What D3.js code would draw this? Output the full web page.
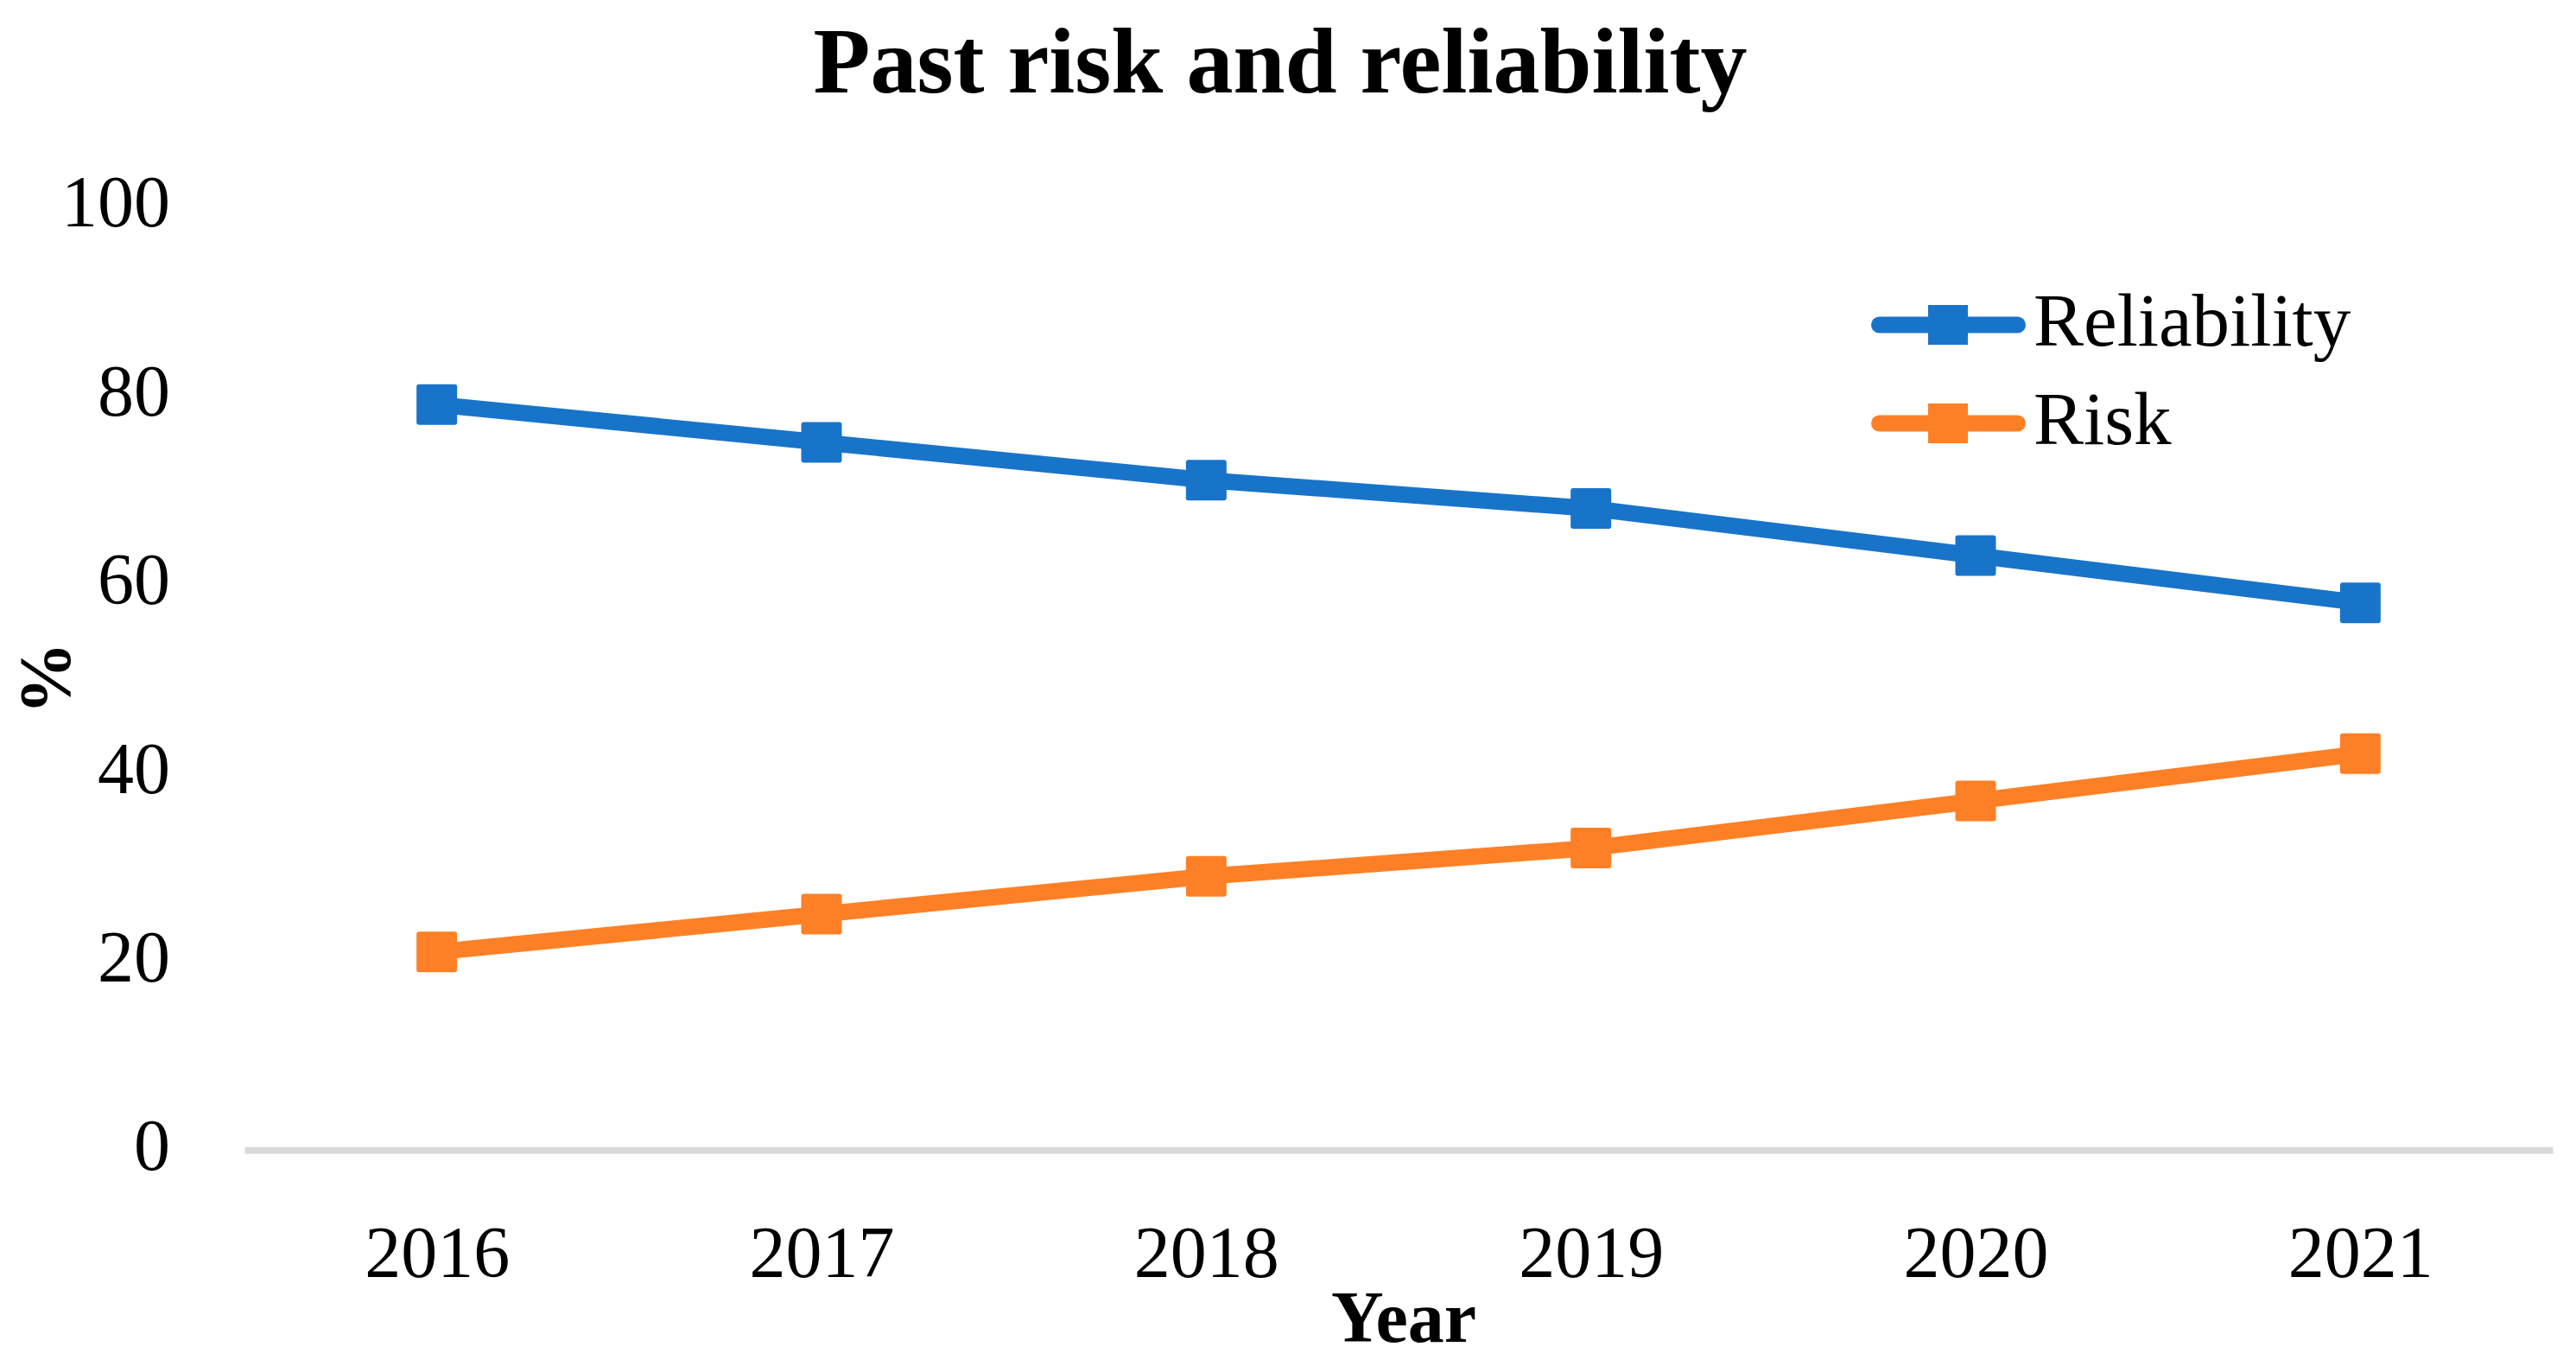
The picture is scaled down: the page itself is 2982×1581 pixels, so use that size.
<!DOCTYPE html>
<html>
<head>
<meta charset="utf-8">
<script src="https://cdn.jsdelivr.net/npm/d3@7"></script>
<style>
  body { margin: 0; background: #fff; }
  text { font-family: 'Liberation Serif', 'Times New Roman', serif; fill: #000; }
</style>
</head>
<body>
<div id="chart"></div>
<script>
const years = ['2016', '2017', '2018', '2019', '2020', '2021'];
const reliability = [79, 75, 71, 68, 63, 58];
const risk = [21, 25, 29, 32, 37, 42];
const yTicks = [0, 20, 40, 60, 80, 100];
const seriesNames = ['Reliability', 'Risk'];
const seriesColors = ['#1874c9', '#fe8026'];

const WIDTH = 2982;
const HEIGHT = 1581;
const plot = { left: 283, right: 2955, top: 239, bottom: 1331 };
const lineWidth = 19;
const markerSize = 47;

const series = [
  { name: seriesNames[0], values: reliability, color: seriesColors[0] },
  { name: seriesNames[1], values: risk, color: seriesColors[1] },
];

const svg = d3.create('svg').attr('width', WIDTH).attr('height', HEIGHT);

svg.append('rect').attr('width', WIDTH).attr('height', HEIGHT).attr('fill', '#fff');

const x = d3.scalePoint().domain(years).range([plot.left, plot.right]).padding(0.5);
const y = d3.scaleLinear().domain([0, 100]).range([plot.bottom, plot.top]);

// y axis labels only
const yAxis = svg
  .append('g')
  .attr('transform', 'translate(197,-4)')
  .call(d3.axisLeft(y).tickValues(yTicks).tickSize(0).tickPadding(0));
yAxis.select('.domain').remove();
yAxis.selectAll('text').style('font-size', '84px').style('font-family', null);

// x axis with light grey line
const xAxis = svg
  .append('g')
  .attr('transform', `translate(0,${plot.bottom})`)
  .call(d3.axisBottom(x).tickSize(0).tickSizeOuter(0).tickPadding(87));
xAxis.select('.domain').attr('stroke', '#d9d9d9').attr('stroke-width', 8);
xAxis.selectAll('text').style('font-size', '84px').style('font-family', null);

const line = d3
  .line()
  .x((_, i) => x(years[i]))
  .y((d) => y(d));

series.forEach((s) => {
  svg
    .append('path')
    .attr('d', line(s.values))
    .attr('fill', 'none')
    .attr('stroke', s.color)
    .attr('stroke-width', lineWidth)
    .attr('stroke-linejoin', 'round');

  svg
    .append('g')
    .selectAll('rect')
    .data(s.values)
    .join('rect')
    .attr('x', (_, i) => x(years[i]) - markerSize / 2)
    .attr('y', (d) => y(d) - markerSize / 2)
    .attr('width', markerSize)
    .attr('height', markerSize)
    .attr('rx', 3)
    .attr('fill', s.color);
});

// legend
const legend = svg
  .append('g')
  .selectAll('g')
  .data(series)
  .join('g')
  .attr('transform', (_, i) => `translate(2166, ${376 + i * 114})`);

legend
  .append('line')
  .attr('x1', lineWidth / 2)
  .attr('x2', 179 - lineWidth / 2)
  .attr('stroke', (d) => d.color)
  .attr('stroke-width', lineWidth)
  .attr('stroke-linecap', 'round');

legend
  .append('rect')
  .attr('x', 89 - 23)
  .attr('y', -23)
  .attr('width', 46)
  .attr('height', 46)
  .attr('fill', (d) => d.color);

legend
  .append('text')
  .attr('x', 188)
  .attr('y', 24)
  .style('font-size', '87px')
  .text((d) => d.name);

// titles
svg
  .append('text')
  .attr('x', 1482)
  .attr('y', 107)
  .attr('text-anchor', 'middle')
  .style('font-size', '108px')
  .style('font-weight', 'bold')
  .text('Past risk and reliability');

svg
  .append('text')
  .attr('x', 1625)
  .attr('y', 1553)
  .attr('text-anchor', 'middle')
  .style('font-size', '84px')
  .style('font-weight', 'bold')
  .text('Year');

svg
  .append('text')
  .attr('transform', 'translate(81,785) rotate(-90)')
  .attr('text-anchor', 'middle')
  .style('font-size', '84px')
  .style('font-weight', 'bold')
  .text('%');

document.getElementById('chart').appendChild(svg.node());
</script>
</body>
</html>
